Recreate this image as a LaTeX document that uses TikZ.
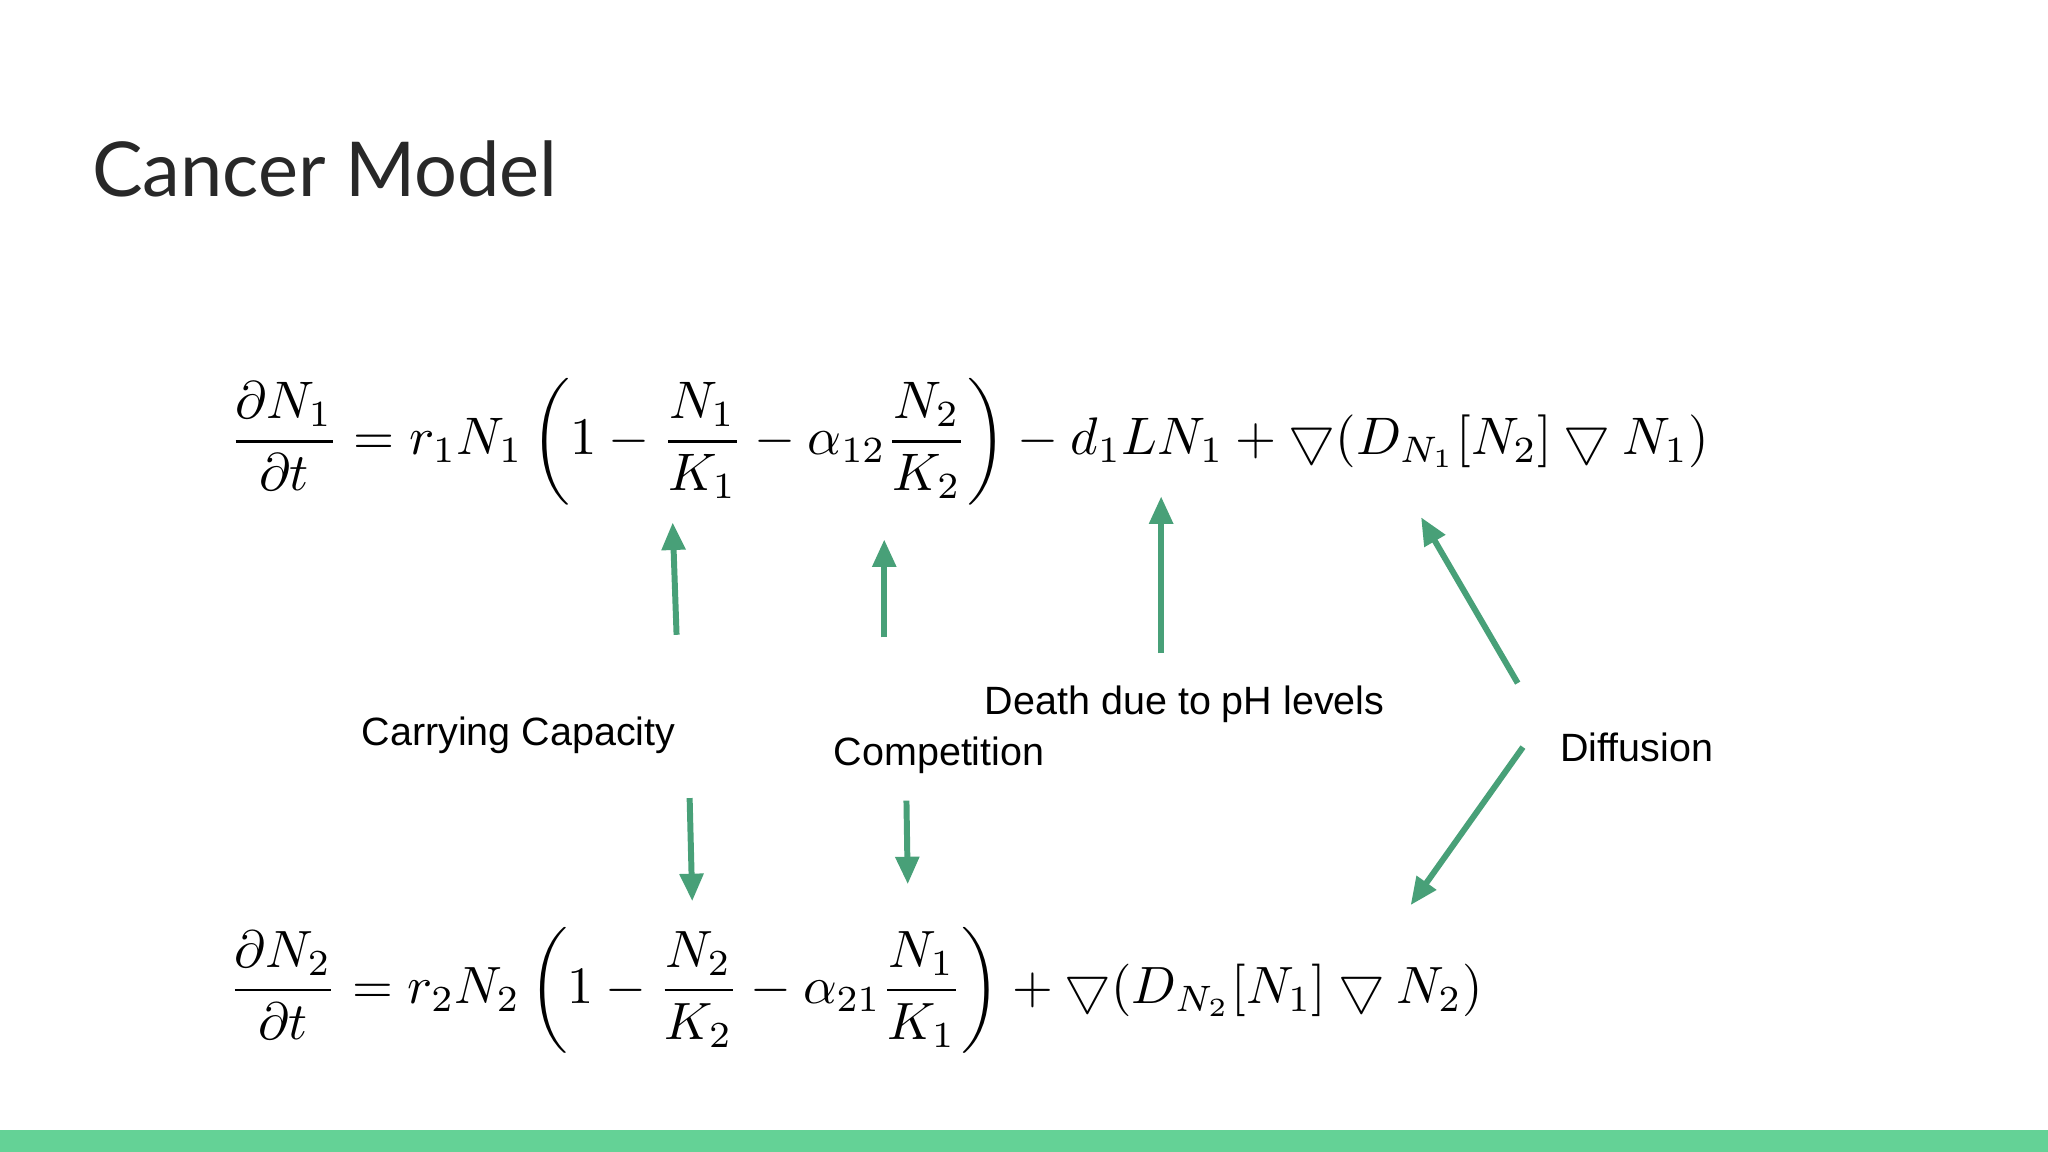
\documentclass[tikz,border=0pt]{standalone}
\usepackage{fontspec}
\usepackage{amsmath,graphicx}
\setmainfont{Liberation Sans}
\newfontfamily\titlefont{Lato}
\usetikzlibrary{arrows.meta}
\definecolor{arr}{RGB}{72,160,120}
\definecolor{bar}{RGB}{100,210,150}
\definecolor{ttl}{RGB}{40,40,40}
\tikzset{
  ar/.style={draw=arr, line width=1.3pt, -{Triangle[width=5pt,length=6pt]}},
  lbl/.style={font=\fontsize{8.6pt}{10pt}\selectfont, inner sep=0pt}
}
\begin{document}
\begin{tikzpicture}[x=0.1mm,y=-0.1mm]
\useasboundingbox (0,0) rectangle (1568,882);
\fill[white] (0,0) rectangle (1568,882);
\fill[bar] (0,865) rectangle (1568,882);
\node[anchor=west, inner sep=0pt, text=ttl, font=\titlefont\fontsize{16.5pt}{18pt}\selectfont] (title) at (70,129) {Cancer Model};
\node[inner sep=0pt] (eq1) at (742,338) {\resizebox{11.33cm}{!}{$\displaystyle \frac{\partial N_1}{\partial t} = r_1N_1\left(1-\frac{N_1}{K_1}-\alpha_{12}\frac{N_2}{K_2}\right) - d_1LN_1 + \bigtriangledown(D_{N_1}[N_2]\bigtriangledown N_1)$}};
\node[inner sep=0pt] (eq2) at (655,758) {\resizebox{9.6cm}{!}{$\displaystyle \frac{\partial N_2}{\partial t} = r_2N_2\left(1-\frac{N_2}{K_2}-\alpha_{21}\frac{N_1}{K_1}\right) + \bigtriangledown(D_{N_2}[N_1]\bigtriangledown N_2)$}};
\node[lbl] (cc) at (397,563) {Carrying Capacity};
\node[lbl] (comp) at (719,578) {Competition};
\node[lbl] (death) at (907,539) {Death due to pH levels};
\node[lbl] (diff) at (1253,572) {Diffusion};
\coordinate (a1s) at (518,486); \coordinate (a1e) at (515,400);
\coordinate (a2s) at (677,488); \coordinate (a2e) at (677,413);
\coordinate (a3s) at (889,500); \coordinate (a3e) at (889,380);
\coordinate (a4s) at (1162,523); \coordinate (a4e) at (1088,396);
\coordinate (b1s) at (528,611); \coordinate (b1e) at (530,690);
\coordinate (b2s) at (694,613); \coordinate (b2e) at (695,677);
\coordinate (b3s) at (1166,572); \coordinate (b3e) at (1080,693);
\draw[ar] (a1s) -- (a1e);
\draw[ar] (a2s) -- (a2e);
\draw[ar] (a3s) -- (a3e);
\draw[ar] (a4s) -- (a4e);
\draw[ar] (b1s) -- (b1e);
\draw[ar] (b2s) -- (b2e);
\draw[ar] (b3s) -- (b3e);
\end{tikzpicture}
\end{document}
